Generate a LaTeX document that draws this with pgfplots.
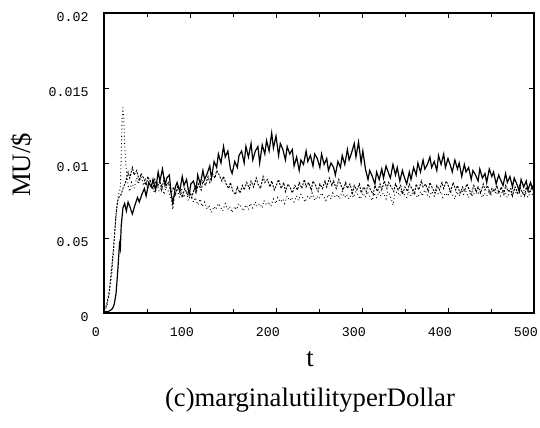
\documentclass[border=0pt]{standalone}
\usepackage{fontspec}
\setmainfont{Liberation Serif}
\newfontfamily\monofont{Liberation Mono}
\usepackage{pgfplots}
\pgfplotsset{compat=1.18}
\begin{document}
\begin{tikzpicture}
\useasboundingbox (-78pt,-86.25pt) rectangle (327pt,234.75pt);
\begin{axis}[
  at={(0,0)}, anchor=south west,
  scale only axis, width=322.5pt, height=225pt,
  xmin=0, xmax=500, ymin=0, ymax=0.02,
  xtick={0,100,...,500}, minor xtick={50,150,...,450},
  ytick={0,0.005,0.01,0.015,0.02},
  yticklabels={0,0.05,0.01,0.015,0.02},
  scaled y ticks=false, scaled x ticks=false,
  tick align=inside, major tick length=4pt, minor tick length=3pt,
  tick style={black, line width=0.5pt},
  axis line style={line width=0.8pt},
  /pgf/number format/assume math mode=true,
  ticklabel style={font=\monofont\fontsize{10}{12}\selectfont},
  yticklabel style={xshift=-8pt, yshift=-3pt},
  xticklabel style={xshift=-6pt, yshift=-7.5pt},
  clip=false,
]
\addplot[black, line width=0.9pt] coordinates {
(0,0.0001)(5,0.0001)(8,0.0002)(10,0.0003)(12,0.0006)(14,0.0013)(16,0.0028)(18,0.0046)(19,0.0043)(20,0.0058)
(22,0.0070)(24,0.0073)(26,0.0068)(28,0.0074)(30,0.0071)(33,0.0066)
(36,0.0072)(39,0.0077)(41,0.0074)(44,0.0079)(47,0.0083)(49,0.0078)(52,0.0087)(55,0.0084)(57,0.0089)(60,0.0082)
(63,0.0094)(65,0.0088)(68,0.0096)(71,0.0085)(73,0.0090)(76,0.0092)(78,0.0080)(80,0.0073)(83,0.0084)(85,0.0087)
(88,0.0081)(91,0.0091)(93,0.0085)(96,0.0089)(99,0.0079)(101,0.0086)(104,0.0088)(107,0.0082)(109,0.0092)(112,0.0086)
(115,0.0095)(117,0.0089)(120,0.0093)(123,0.0098)(125,0.0090)(128,0.0101)(131,0.0097)(133,0.0106)(136,0.0100)(139,0.0111)
(141,0.0104)(144,0.0108)(147,0.0096)(149,0.0093)(152,0.0101)(155,0.0097)(157,0.0105)(160,0.0108)(163,0.0100)(165,0.0111)
(168,0.0104)(171,0.0113)(173,0.0102)(176,0.0108)(179,0.0111)(181,0.0100)(184,0.0112)(187,0.0106)(189,0.0115)(192,0.0108)
(195,0.0120)(197,0.0110)(200,0.0118)(203,0.0105)(205,0.0113)(208,0.0109)(211,0.0102)(213,0.0111)(216,0.0106)(219,0.0109)
(221,0.0098)(224,0.0104)(227,0.0095)(229,0.0102)(232,0.0099)(235,0.0108)(237,0.0101)(240,0.0105)(243,0.0098)(245,0.0106)
(248,0.0103)(251,0.0097)(253,0.0106)(256,0.0099)(259,0.0103)(261,0.0095)(264,0.0100)(267,0.0097)(269,0.0092)(272,0.0101)
(275,0.0097)(277,0.0105)(280,0.0099)(283,0.0109)(285,0.0102)(288,0.0107)(291,0.0113)(293,0.0104)(296,0.0114)(299,0.0100)
(301,0.0108)(304,0.0096)(307,0.0089)(309,0.0095)(312,0.0091)(315,0.0086)(317,0.0094)(320,0.0089)(323,0.0096)(325,0.0090)
(328,0.0098)(331,0.0093)(333,0.0090)(336,0.0099)(339,0.0092)(341,0.0097)(344,0.0088)(347,0.0095)(349,0.0091)(352,0.0086)
(355,0.0094)(357,0.0089)(360,0.0097)(363,0.0092)(365,0.0100)(368,0.0094)(371,0.0102)(373,0.0096)(376,0.0099)(379,0.0104)
(381,0.0097)(384,0.0101)(387,0.0095)(389,0.0105)(392,0.0099)(395,0.0106)(397,0.0097)(400,0.0103)(403,0.0098)(405,0.0094)
(408,0.0102)(411,0.0096)(413,0.0100)(416,0.0091)(419,0.0099)(421,0.0094)(424,0.0097)(427,0.0089)(429,0.0095)(432,0.0092)
(435,0.0088)(437,0.0096)(440,0.0090)(443,0.0093)(445,0.0087)(448,0.0096)(451,0.0091)(453,0.0094)(456,0.0086)(459,0.0092)
(461,0.0089)(464,0.0085)(467,0.0093)(469,0.0087)(472,0.0091)(475,0.0084)(477,0.0090)(480,0.0086)(483,0.0081)(485,0.0089)
(488,0.0084)(491,0.0088)(493,0.0082)(496,0.0087)(498,0.0083)(500,0.0086)
};
\addplot[black, line width=0.7pt, dash pattern=on 1.5pt off 1pt] coordinates {
(0,0.0002)(3,0.0005)(6,0.0014)(9,0.0030)(12,0.0050)(14,0.0066)(16,0.0075)(18,0.0078)(20,0.0079)(22,0.0083)(25,0.0087)
(28,0.0094)(30,0.0090)(33,0.0097)(35,0.0092)(38,0.0095)(41,0.0088)(43,0.0093)(46,0.0090)(49,0.0085)(51,0.0091)
(54,0.0087)(57,0.0083)(59,0.0089)(62,0.0084)(65,0.0088)(67,0.0082)(70,0.0090)(73,0.0085)(75,0.0087)(78,0.0080)
(81,0.0084)(83,0.0079)(86,0.0085)(89,0.0081)(91,0.0077)(94,0.0083)(97,0.0079)(99,0.0082)(102,0.0077)(105,0.0083)
(107,0.0080)(110,0.0086)(113,0.0082)(115,0.0088)(118,0.0085)(121,0.0091)(123,0.0087)(126,0.0093)(129,0.0090)(131,0.0095)
(134,0.0092)(137,0.0088)(139,0.0091)(142,0.0086)(145,0.0083)(147,0.0087)(150,0.0081)(153,0.0079)(155,0.0084)(158,0.0080)
(161,0.0085)(163,0.0082)(166,0.0087)(169,0.0083)(171,0.0088)(174,0.0084)(177,0.0090)(179,0.0086)(182,0.0083)(185,0.0091)
(187,0.0087)(190,0.0089)(193,0.0084)(195,0.0088)(198,0.0082)(201,0.0086)(203,0.0089)(206,0.0083)(209,0.0087)(211,0.0081)
(214,0.0086)(217,0.0083)(219,0.0080)(222,0.0085)(225,0.0082)(227,0.0087)(230,0.0083)(233,0.0089)(235,0.0084)(238,0.0087)
(241,0.0082)(243,0.0088)(246,0.0085)(249,0.0081)(251,0.0086)(254,0.0083)(257,0.0088)(259,0.0084)(262,0.0090)(265,0.0085)
(267,0.0088)(270,0.0083)(273,0.0089)(275,0.0086)(278,0.0082)(281,0.0087)(283,0.0083)(286,0.0086)(289,0.0080)(291,0.0085)
(294,0.0082)(297,0.0086)(299,0.0080)(302,0.0084)(305,0.0081)(307,0.0086)(310,0.0082)(313,0.0079)(315,0.0085)(318,0.0081)
(321,0.0086)(323,0.0082)(326,0.0088)(329,0.0083)(331,0.0087)(334,0.0084)(337,0.0081)(339,0.0086)(342,0.0082)(345,0.0085)
(347,0.0079)(350,0.0084)(353,0.0081)(355,0.0086)(358,0.0083)(361,0.0079)(363,0.0086)(366,0.0082)(369,0.0088)(371,0.0084)
(374,0.0086)(377,0.0081)(379,0.0087)(382,0.0083)(385,0.0080)(387,0.0085)(390,0.0082)(393,0.0087)(395,0.0083)(398,0.0088)
(401,0.0084)(403,0.0081)(406,0.0087)(409,0.0082)(411,0.0085)(414,0.0080)(417,0.0084)(419,0.0081)(422,0.0086)(425,0.0082)
(427,0.0079)(430,0.0085)(433,0.0081)(435,0.0084)(438,0.0080)(441,0.0086)(443,0.0082)(446,0.0085)(449,0.0079)(451,0.0083)
(454,0.0081)(457,0.0085)(459,0.0080)(462,0.0084)(465,0.0079)(467,0.0085)(470,0.0081)(473,0.0083)(475,0.0078)(478,0.0084)
(481,0.0080)(483,0.0085)(486,0.0081)(489,0.0078)(491,0.0084)(494,0.0080)(497,0.0083)(500,0.0081)
};
\addplot[black, line width=0.7pt, dotted] coordinates {
(0,0.0001)(3,0.0004)(6,0.0012)(9,0.0026)(11,0.0040)(13,0.0058)(15,0.0072)(17,0.0079)(19,0.0083)(20,0.0105)
(21,0.0128)(22,0.0137)(23,0.0130)(24,0.0112)(26,0.0095)(28,0.0085)
(30,0.0081)(32,0.0087)(35,0.0083)(38,0.0090)(40,0.0086)(43,0.0091)(46,0.0085)(48,0.0089)(51,0.0083)(54,0.0088)
(56,0.0084)(59,0.0080)(62,0.0086)(64,0.0081)(67,0.0085)(70,0.0079)(72,0.0084)(75,0.0081)(78,0.0076)(80,0.0069)
(82,0.0078)(85,0.0082)(88,0.0077)(90,0.0083)(93,0.0078)(96,0.0080)(98,0.0075)(101,0.0079)(104,0.0074)(106,0.0077)
(109,0.0072)(112,0.0076)(114,0.0071)(117,0.0074)(120,0.0069)(122,0.0072)(125,0.0067)(128,0.0071)(130,0.0069)(133,0.0073)
(136,0.0070)(138,0.0068)(141,0.0073)(144,0.0069)(146,0.0071)(149,0.0067)(152,0.0071)(154,0.0069)(157,0.0073)(160,0.0070)
(162,0.0068)(165,0.0072)(168,0.0069)(170,0.0073)(173,0.0070)(176,0.0074)(178,0.0071)(181,0.0073)(184,0.0070)(186,0.0075)
(189,0.0072)(192,0.0074)(194,0.0071)(197,0.0076)(200,0.0073)(202,0.0077)(205,0.0074)(208,0.0076)(210,0.0073)(213,0.0078)
(216,0.0075)(218,0.0077)(221,0.0074)(224,0.0078)(226,0.0075)(229,0.0079)(232,0.0076)(234,0.0074)(237,0.0078)(240,0.0076)
(242,0.0080)(245,0.0075)(248,0.0078)(250,0.0076)(253,0.0080)(256,0.0077)(258,0.0075)(261,0.0079)(264,0.0076)(266,0.0080)
(269,0.0077)(272,0.0079)(274,0.0076)(277,0.0081)(280,0.0077)(282,0.0079)(285,0.0076)(288,0.0080)(290,0.0077)(293,0.0081)
(296,0.0078)(298,0.0076)(301,0.0080)(304,0.0077)(306,0.0081)(309,0.0078)(312,0.0075)(314,0.0080)(317,0.0077)(320,0.0081)
(322,0.0078)(325,0.0080)(328,0.0076)(330,0.0081)(333,0.0078)(336,0.0072)(338,0.0079)(341,0.0081)(344,0.0078)(346,0.0082)
(349,0.0079)(352,0.0077)(354,0.0081)(357,0.0078)(360,0.0082)(362,0.0079)(365,0.0077)(368,0.0081)(370,0.0078)(373,0.0082)
(376,0.0079)(378,0.0077)(381,0.0081)(384,0.0078)(386,0.0082)(389,0.0079)(392,0.0081)(394,0.0077)(397,0.0080)(400,0.0078)
(402,0.0082)(405,0.0079)(408,0.0076)(410,0.0081)(413,0.0078)(416,0.0082)(418,0.0079)(421,0.0081)(424,0.0077)(426,0.0080)
(429,0.0078)(432,0.0082)(434,0.0079)(437,0.0081)(440,0.0077)(442,0.0080)(445,0.0078)(448,0.0082)(450,0.0079)(453,0.0083)
(456,0.0079)(458,0.0081)(461,0.0078)(464,0.0082)(466,0.0080)(469,0.0077)(472,0.0081)(474,0.0079)(477,0.0083)(480,0.0079)
(482,0.0081)(485,0.0078)(488,0.0082)(490,0.0080)(493,0.0077)(496,0.0081)(498,0.0079)(500,0.0080)
};
\node[font=\fontsize{20}{24}\selectfont] at (axis description cs:0.479,-0.155) {t};
\node[font=\fontsize{20}{24}\selectfont, rotate=90] at (axis description cs:-0.19,0.493) {MU/\$};
\node[font=\fontsize{20}{24}\selectfont] at (axis description cs:0.479,-0.29) {(c)marginalutilityperDollar};
\end{axis}
\end{tikzpicture}
\end{document}
